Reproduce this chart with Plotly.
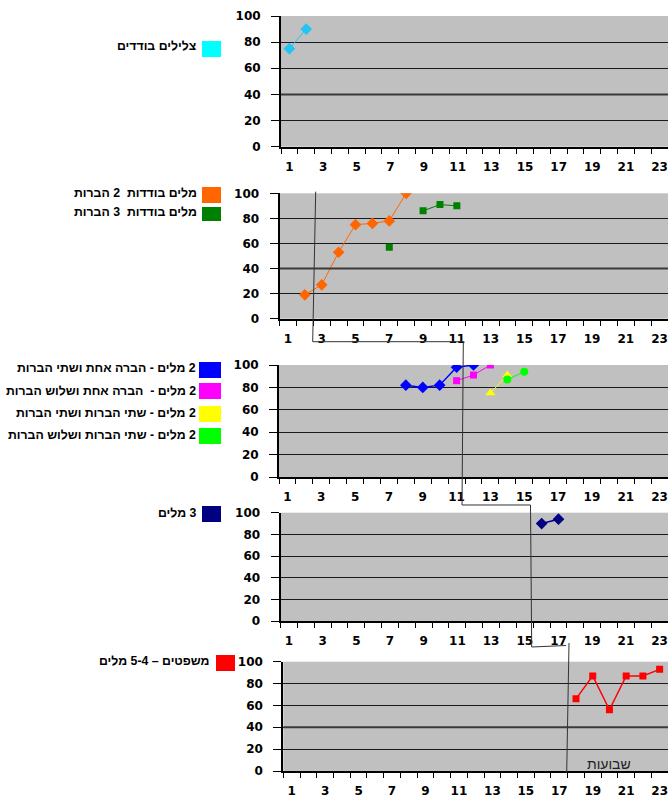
import plotly.graph_objects as go

W, H = 668, 795

week_labels = [str(i) for i in range(1, 24, 2)]
week_ticks = list(range(1, 24, 2))

# Panel 1
sounds_x = [1, 2]
sounds_y = [75, 90]
# Panel 2
w2syl_x = [2, 3, 4, 5, 6, 7, 8]
w2syl_y = [19, 27, 53, 75, 76, 78, 100]
w3syl_x = [7, 8, 9, 10, 11]
w3syl_y = [57, None, 86, 91, 90]
# Panel 3
w_1_2_x = [8, 9, 10, 11, 12]
w_1_2_y = [82, 80, 82, 98, 100]
w_1_3_x = [11, 12, 13]
w_1_3_y = [86, 91, 100]
w_2_2_x = [13, 14]
w_2_2_y = [75, 91]
w_2_3_x = [14, 15]
w_2_3_y = [87, 94]
# Panel 4
w3_x = [16, 17]
w3_y = [90, 94]
# Panel 5
sent_x = [18, 19, 20, 21, 22, 23]
sent_y = [66, 87, 56, 87, 87, 93]

legend_names = [
    "צלילים בודדים",
    "מלים בודדות  2 הברות",
    "מלים בודדות  3 הברות",
    "2 מלים - הברה אחת ושתי הברות",
    "2 מלים -  הברה אחת ושלוש הברות",
    "2 מלים - שתי הברות ושתי הברות",
    "2 מלים - שתי הברות ושלוש הברות",
    "3 מלים",
    "משפטים – 5-4 מלים",
]
legend_colors = ["#00FFFF", "#FF6600", "#008000", "#0000FF", "#FF00FF",
                 "#FFFF00", "#00FF00", "#000080", "#FF0000"]

fig = go.Figure()

def add(x, y, color, symbol, panel, size=8, lw=1):
    fig.add_trace(go.Scatter(
        x=x, y=y, mode="lines+markers", connectgaps=False,
        line=dict(color=color, width=lw),
        marker=dict(color=color, symbol=symbol, size=size, line=dict(width=0)),
        xaxis="x" if panel == 1 else f"x{panel}",
        yaxis="y" if panel == 1 else f"y{panel}",
        showlegend=False, hoverinfo="x+y"))

add(sounds_x, sounds_y, "#22C4F4", "diamond", 1, 9)
add(w2syl_x, w2syl_y, "#FF6600", "diamond", 2, 9)
add(w3syl_x, w3syl_y, "#008000", "square", 2, 7)
add(w_1_2_x, w_1_2_y, "#0000FF", "diamond", 3, 9, 1.5)
add(w_1_3_x, w_1_3_y, "#FF00FF", "square", 3, 7)
add(w_2_2_x, w_2_2_y, "#FFFF00", "triangle-up", 3, 9)
add(w_2_3_x, w_2_3_y, "#00FF00", "circle", 3, 8)
add(w3_x, w3_y, "#000080", "diamond", 4, 9, 1.5)
add(sent_x, sent_y, "#FF0000", "square", 5, 7, 1.5)

# panel geometry in pixels: (left, top, bottom)
panels = [(281, 16, 146.7), (279.5, 193.3, 318.7), (279, 365, 477),
          (280.5, 512.7, 621), (283.3, 661.7, 771)]

tick_font = dict(family="DejaVu Sans", size=12, color="black", weight="bold")
layout = dict(width=W, height=H, margin=dict(l=0, r=0, t=0, b=0, autoexpand=False),
              paper_bgcolor="white", plot_bgcolor="#C0C0C0",
              showlegend=False)
for i, (lft, top, bot) in enumerate(panels, start=1):
    sx = "" if i == 1 else str(i)
    layout["xaxis" + sx] = dict(
        domain=[lft / W, 1.0], range=[0.5, 23.5], automargin=False,
        anchor="y" + sx, tickmode="array", tickvals=week_ticks,
        ticktext=week_labels, ticks="outside", ticklen=5,
        tickcolor="rgba(0,0,0,0)", ticklabelstandoff=3,
        tickfont=tick_font, showgrid=False, zeroline=False,
        showline=True, linecolor="black", linewidth=2,
        minor=dict(tickmode="linear", tick0=0.5, dtick=1, ticks="outside",
                   ticklen=5, tickcolor="black", tickwidth=1, showgrid=False),
        fixedrange=True)
    layout["yaxis" + sx] = dict(
        domain=[1 - bot / H, 1 - top / H], range=[0, 100], automargin=False,
        anchor="x" + sx, tickmode="linear", tick0=0, dtick=20,
        ticks="outside", ticklen=8, tickcolor="black", tickwidth=1,
        ticklabelstandoff=8, tickfont=tick_font,
        showgrid=True, gridcolor="#1a1a1a", gridwidth=1, zeroline=False,
        showline=True, linecolor="black", linewidth=2, fixedrange=True)
fig.update_layout(**layout)

shapes = []
# slightly heavier 40 gridline as in the original
for i in (1, 2, 5):
    sx = "" if i == 1 else str(i)
    shapes.append(dict(type="line", xref="x" + sx, yref="y" + sx,
                       x0=0.5, x1=23.5, y0=40, y1=40,
                       line=dict(color="#3a3a3a", width=2)))

def P(x, y):
    return f"{x / W:.5f},{1 - y / H:.5f}"

phase = ("M" + P(315.7, 191.7) + " L" + P(312.7, 341.7) + " L" + P(463.3, 341.7)
         + " L" + P(462, 505) + " L" + P(530.5, 505) + " L" + P(531.7, 647)
         + " L" + P(566, 645.5))
shapes.append(dict(type="path", xref="paper", yref="paper", path=phase,
                   line=dict(color="#333333", width=1)))
shapes.append(dict(type="line", xref="paper", yref="paper",
                   x0=569 / W, y0=1 - 643 / H, x1=566.7 / W, y1=1 - 773 / H,
                   line=dict(color="#333333", width=1)))

# legend keys: (square left, right, top, bottom, text right, text center y)
keys = [(202, 221, 41, 57, 198, 46),
        (202, 221, 187, 203, 199, 193),
        (202, 221, 207, 221, 199, 212),
        (199, 221, 362, 378, 198, 368),
        (199, 221, 383, 399, 198, 391),
        (199, 221, 406, 422, 198, 413),
        (199, 221, 428, 444, 198, 435),
        (202, 221, 506, 522, 199, 513),
        (216, 235, 655, 671, 212, 661)]
annotations = []
for (x0, x1, y0, y1, tr, ty), name, col in zip(keys, legend_names, legend_colors):
    shapes.append(dict(type="rect", xref="paper", yref="paper",
                       x0=x0 / W, x1=x1 / W, y0=1 - y1 / H, y1=1 - y0 / H,
                       fillcolor=col, line=dict(width=0)))
    annotations.append(dict(xref="paper", yref="paper", x=tr / W, y=1 - ty / H,
                            xanchor="right", yanchor="middle", showarrow=False,
                            text="\u200f" + name + "\u200f",
                            font=dict(family="Liberation Sans", size=12.3,
                                      color="black", weight="bold")))

annotations.append(dict(xref="x5", yref="y5", x=20, y=6, xanchor="center",
                        yanchor="middle", showarrow=False, text="\u200fשבועות",
                        font=dict(family="Liberation Sans", size=14, color="#222")))

fig.update_layout(shapes=shapes, annotations=annotations)
fig.write_html(
    "out.html",
    config={"displayModeBar": False},
    post_script="document.body.style.margin='0';document.body.style.overflow='hidden';")
